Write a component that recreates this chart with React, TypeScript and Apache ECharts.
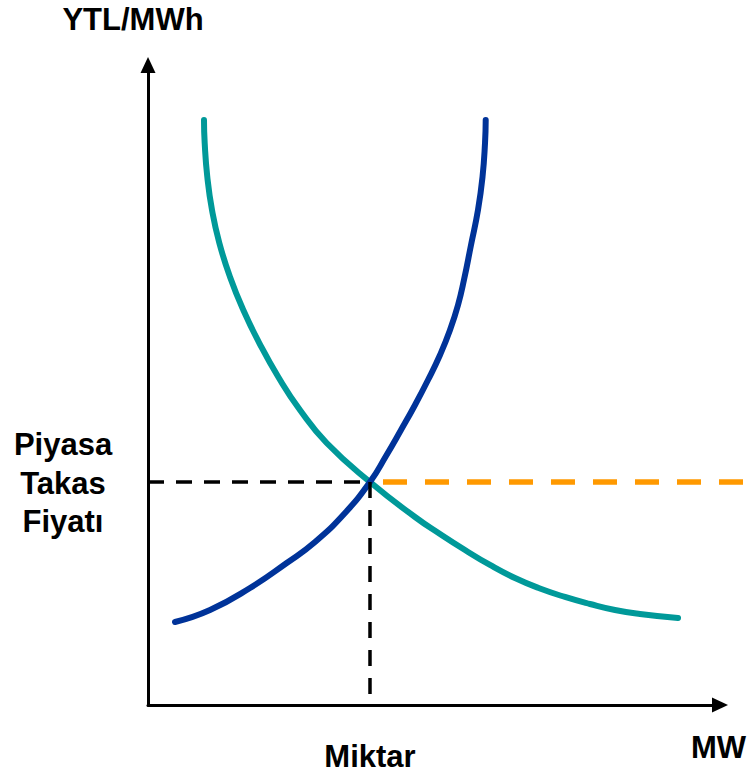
import React, { useEffect, useRef } from "react";
import * as echarts from "echarts";

// Demand curve (teal): [quantity, price]
const demandCurve: [number, number][] = [
  [9.79, 91.41], [9.91, 87.81], [10.37, 82.5], [11.19, 77.34], [12.47, 72.19],
  [14.34, 66.88], [16.66, 61.72], [19.46, 56.56], [22.78, 51.25], [26.57, 46.09],
  [31.24, 40.94], [38.81, 34.84], [46.68, 29.38], [51.05, 26.72], [55.42, 24.22],
  [59.79, 21.88], [64.16, 19.84], [68.53, 18.2], [72.9, 16.88], [77.27, 15.78],
  [81.64, 14.84], [86.01, 14.22], [92.66, 13.59],
];

// Supply curve (dark blue): [quantity, price]
const supplyCurve: [number, number][] = [
  [4.72, 12.97], [10.84, 14.84], [17.83, 18.28], [24.25, 22.19], [29.2, 25.47],
  [34.44, 30.0], [38.81, 34.84], [41.61, 38.91], [44.23, 42.97], [46.68, 46.88],
  [48.95, 50.78], [51.05, 54.69], [52.8, 58.59], [54.2, 62.5], [55.24, 66.41],
  [56.47, 71.88], [57.69, 77.34], [58.48, 82.5], [58.92, 87.81], [59.04, 91.41],
];

// Equilibrium (market clearing) point
const equilibrium: [number, number] = [38.81, 34.84];
const priceLineEnd = 105;

const axisRange = { xMin: 0, xMax: 100, yMin: 0, yMax: 100 };

const yAxisTitle = "YTL/MWh";
const xAxisTitle = "MW";
const quantityLabel = "Miktar";
const priceLabelLines = ["Piyasa", "Takas", "Fiyatı"];

const FONT = '"Liberation Sans", Arial, Helvetica, sans-serif';

export default function App() {
  const ref = useRef<HTMLDivElement>(null);

  useEffect(() => {
    if (!ref.current) return;
    const chart = echarts.init(ref.current, undefined, { renderer: "svg" });

    const textStyle = (text: string, align: string) => ({
      text,
      fill: "#000",
      fontFamily: FONT,
      fontWeight: "bold",
      fontSize: 31,
      align,
      verticalAlign: "middle",
    });

    const priceLabelY = [444.3, 483.3, 521.3];

    const hiddenAxis = {
      type: "value",
      show: false,
      axisLine: { show: false },
      axisTick: { show: false },
      axisLabel: { show: false },
      splitLine: { show: false },
    };

    const visibleAxisLine = {
      show: true,
      onZero: false,
      symbol: ["none", "triangle"],
      symbolSize: [15, 16],
      lineStyle: { color: "#000", width: 3 },
    };

    const option: any = {
      animation: false,
      backgroundColor: "#fff",
      grid: [
        { left: 148, top: 65, width: 572, height: 640, containLabel: false, outerBoundsMode: "none" },
        { left: 148, top: 65, width: 600.6, height: 640, containLabel: false, outerBoundsMode: "none" },
      ],
      xAxis: [
        {
          type: "value",
          gridIndex: 0,
          min: axisRange.xMin,
          max: axisRange.xMax,
          axisLine: visibleAxisLine,
          axisTick: { show: false },
          axisLabel: { show: false },
          splitLine: { show: false },
        },
        { ...hiddenAxis, gridIndex: 1, min: axisRange.xMin, max: priceLineEnd },
      ],
      yAxis: [
        {
          type: "value",
          gridIndex: 0,
          min: axisRange.yMin,
          max: axisRange.yMax,
          axisLine: visibleAxisLine,
          axisTick: { show: false },
          axisLabel: { show: false },
          splitLine: { show: false },
        },
        { ...hiddenAxis, gridIndex: 1, min: axisRange.yMin, max: axisRange.yMax },
      ],
      series: [
        {
          name: "Talep",
          type: "line",
          data: demandCurve,
          smooth: 0.5,
          showSymbol: false,
          lineStyle: { color: "#009999", width: 6, cap: "round" },
          z: 2,
        },
        {
          name: "Arz",
          type: "line",
          data: supplyCurve,
          smooth: 0.5,
          showSymbol: false,
          lineStyle: { color: "#003399", width: 6, cap: "round" },
          z: 2,
        },
        {
          name: "Fiyat",
          type: "line",
          xAxisIndex: 1,
          yAxisIndex: 1,
          data: [equilibrium, [priceLineEnd, equilibrium[1]]],
          showSymbol: false,
          lineStyle: { color: "#FF9900", width: 5.5, type: [24, 18], dashOffset: 29 },
          z: 1,
        },
        {
          name: "Fiyat kılavuz",
          type: "line",
          data: [[axisRange.xMin, equilibrium[1]], equilibrium],
          showSymbol: false,
          lineStyle: { color: "#000", width: 3.5, type: [16, 12] },
          z: 3,
        },
        {
          name: "Miktar kılavuz",
          type: "line",
          data: [equilibrium, [equilibrium[0], axisRange.yMin]],
          showSymbol: false,
          lineStyle: { color: "#000", width: 3.5, type: [16, 12] },
          z: 3,
        },
      ],
      graphic: [
        { type: "text", x: 133, y: 19.3, style: textStyle(yAxisTitle, "center") },
        { type: "text", x: 691, y: 747.3, style: textStyle(xAxisTitle, "left") },
        { type: "text", x: 370, y: 756.3, style: textStyle(quantityLabel, "center") },
        ...priceLabelLines.map((t, i) => ({
          type: "text",
          x: 63,
          y: priceLabelY[i],
          style: textStyle(t, "center"),
        })),
      ],
    };

    chart.setOption(option);
    return () => chart.dispose();
  }, []);

  return (
    <div
      ref={ref}
      style={{ position: "absolute", left: 0, top: 0, width: 750, height: 776 }}
    />
  );
}
